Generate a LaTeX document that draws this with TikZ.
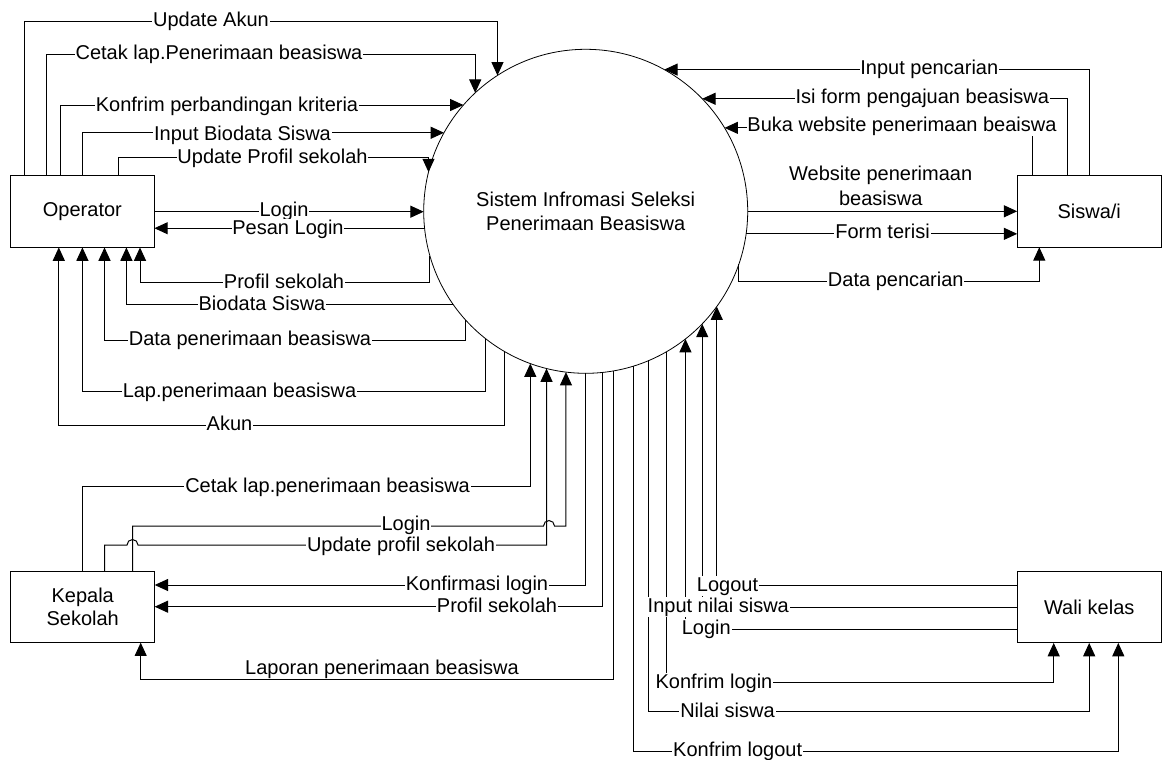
\documentclass[tikz,border=0pt]{standalone}
\usepackage{fontspec}
\setmainfont{Liberation Sans}
\usetikzlibrary{arrows.meta}
\tikzset{
	entity/.style={
		rectangle,
		draw=black,
		line width=0.75pt,
		fill=white,
		minimum width=108pt,
		minimum height=53.6pt,
		inner sep=2pt,
		outer sep=0pt,
		align=center,
		font=\fontsize{15}{17.5}\selectfont
	},
	process/.style={
		circle,
		draw=black,
		line width=0.6pt,
		minimum size=243pt,
		inner sep=0pt,
		outer sep=0pt,
		align=center,
		font=\fontsize{15}{18}\selectfont
	},
	flow/.style={
		draw=black,
		line width=0.75pt,
		-{Triangle[length=10pt,width=9pt]}
	},
	lbl/.style={
		fill=white,
		inner sep=0.6pt,
		text height=11pt,
		text depth=3pt,
		font=\fontsize{15}{18}\selectfont
	},
	note/.style={
		inner sep=0pt,
		align=center,
		font=\fontsize{15}{18.5}\selectfont
	}
}

\begin{document}
\begin{tikzpicture}[x=0.75pt,y=0.75pt]
	\useasboundingbox (0,0) rectangle (1164,-760);
	\node[process] (sys) at (585.7,-211.3) {Sistem Infromasi Seleksi\\Penerimaan Beasiswa};
	\node[entity] (op) at (82.4,-211.7) {Operator};
	\node[entity] (siswa) at (1089.2,-211.5) {Siswa/i};
	\node[entity] (kepala) at (82.7,-606.9) {Kepala\\Sekolah};
	\node[entity] (wali) at (1089.2,-607.2) {Wali kelas};
	% operator
	\draw[flow] (24.3,0 |- op.north) |- (sys.123.33 |- 0,-21) -- (sys.123.33);
	\draw[flow] (46,0 |- op.north) |- (sys.133.11 |- 0,-54) -- (sys.133.11);
	\draw[flow] (60.7,0 |- op.north) |- (sys.139.32);
	\draw[flow] (op.north) |- (sys.151.9);
	\draw[flow] (118.3,0 |- op.north) |- (sys.166.33 |- 0,-157.7) -- (sys.166.33);
	\draw[flow] (op.east) -- (op.east -| sys.west);
	\draw[flow] (sys.186.38) -- (sys.186.38 -| op.east);
	\draw[flow] (sys.196.05) |- (140,-282.7) -- (140,0 |- op.south);
	\draw[flow] (sys.215.34) -| (126.4,0 |- op.south);
	\draw[flow] (sys.222.36) |- (104.5,-340) -- (104.5,0 |- op.south);
	\draw[flow] (sys.232.91) |- (op.south |- 0,-391.7) -- (op.south);
	\draw[flow] (sys.240.12) |- (58.8,-425) -- (58.8,0 |- op.south);
	% siswa
	\draw[flow] (siswa.north) |- (sys.61.44);
	\draw[flow] (1067.7,0 |- siswa.north) |- (sys.44.53);
	\draw[flow] (1032.3,0 |- siswa.north) |- (sys.31.77);
	\draw[flow] (sys.east) -- (sys.east -| siswa.west);
	\draw[flow] (sys.352.2) -- (sys.352.2 -| siswa.west);
	\draw[flow] (sys.341.13) |- (1039.3,-281) -- (1039.3,0 |- siswa.south);
	% kepala sekolah
	\draw[flow] (kepala.north) |- (sys.250.26 |- 0,-486.7) -- (sys.250.26);
	\draw[flow] (132.5,0 |- kepala.north) |- (543.5,-526) arc[start angle=180,end angle=0,radius=5.5] -| (sys.263.37);
	\draw[flow] (104.6,0 |- kepala.north) |- (127,-545) arc[start angle=180,end angle=0,radius=5.5] -| (sys.256.91);
	\draw[flow] (sys.south) |- (kepala.east |- 0,-585);
	\draw[flow] (sys.276.49) |- (kepala.east |- 0,-606.7);
	\draw[flow] (sys.280.67) |- (140.7,-679) -- (140.7,0 |- kepala.south);
	% wali kelas
	\draw[flow] (wali.west |- 0,-585.7) -| (sys.324.57);
	\draw[flow] (wali.west) -| (sys.316.24);
	\draw[flow] (wali.west |- 0,-629) -| (sys.308.11);
	\draw[flow] (sys.300) |- (1053.7,-682.7) -- (1053.7,0 |- wali.south);
	\draw[flow] (sys.293.12) |- (wali.south |- 0,-711.7) -- (wali.south);
	\draw[flow] (sys.287.72) |- (1118.3,-751) -- (1118.3,0 |- wali.south);
	% labels
	\node[lbl] (tUpdAkun) at (211,-21) {Update Akun};
	\node[lbl] (tCetakOp) at (219,-54) {Cetak lap.Penerimaan beasiswa};
	\node[lbl] (tKonfrim) at (227,-105.7) {Konfrim perbandingan kriteria};
	\node[lbl] (tInputBio) at (242.5,-135) {Input Biodata Siswa};
	\node[lbl] (tUpdProf) at (272.5,-157.7) {Update Profil sekolah};
	\node[lbl] (tLoginOp) at (284,-211) {Login};
	\node[lbl] (tPesan) at (288,-229.3) {Pesan Login};
	\node[lbl] (tProfOp) at (284,-282.7) {Profil sekolah};
	\node[lbl] (tBio) at (262,-305) {Biodata Siswa};
	\node[lbl] (tDataPen) at (250,-340) {Data penerimaan beasiswa};
	\node[lbl] (tLapOp) at (239.5,-391.7) {Lap.penerimaan beasiswa};
	\node[lbl] (tAkun) at (229.5,-425) {Akun};
	\node[lbl] (tInCari) at (929.3,-69) {Input pencarian};
	\node[lbl] (tIsiForm) at (922.3,-97.7) {Isi form pengajuan beasiswa};
	\node[lbl] (tBuka) at (902,-126) {Buka website penerimaan beaiswa};
	\node[note] (tWeb) at (880.7,-185.8) {Website penerimaan\\beasiswa};
	\node[lbl] (tForm) at (882.5,-233.3) {Form terisi};
	\node[lbl] (tDataCari) at (895.8,-281) {Data pencarian};
	\node[lbl] (tCetakKs) at (327.6,-486.7) {Cetak lap.penerimaan beasiswa};
	\node[lbl] (tUpdKs) at (401,-546) {Update profil sekolah};
	\node[lbl] (tLoginKs) at (406,-525) {Login};
	\node[lbl] (tKonfKs) at (477,-585) {Konfirmasi login};
	\node[lbl] (tProfKs) at (497,-606.7) {Profil sekolah};
	\node[note] (tLapKs) at (382,-669.3) {Laporan penerimaan beasiswa};
	\node[lbl] (tLogout) at (727.5,-585.7) {Logout};
	\node[lbl] (tInNilai) at (718.3,-607.3) {Input nilai siswa};
	\node[lbl] (tLoginWk) at (706.3,-629) {Login};
	\node[lbl] (tKonfLogin) at (714,-682.7) {Konfrim login};
	\node[lbl] (tNilai) at (727.5,-711.7) {Nilai siswa};
	\node[lbl] (tKonfLogout) at (737.7,-751) {Konfrim logout};
\end{tikzpicture}
\end{document}
